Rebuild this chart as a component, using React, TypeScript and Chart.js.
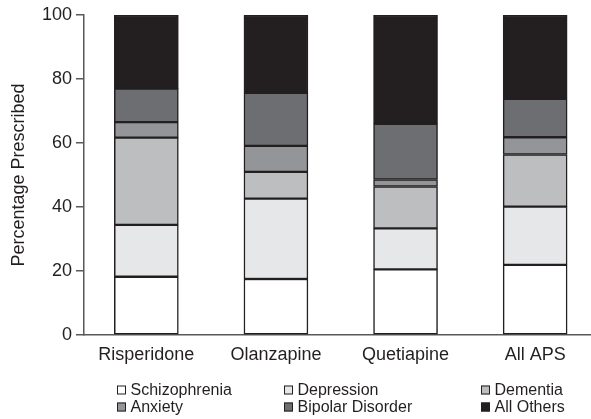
import React, { useEffect, useRef } from "react";
import { Chart, registerables } from "chart.js";

Chart.register(...registerables);

const categories = ["Risperidone", "Olanzapine", "Quetiapine", "All APS"];
const seriesNames = ["Schizophrenia", "Depression", "Dementia", "Anxiety", "Bipolar Disorder", "All Others"];
const schizophrenia = [18.2, 17.5, 20.5, 21.9];
const depression = [16.2, 25.1, 12.8, 18.2];
const dementia = [27.3, 8.4, 13.1, 16.3];
const anxiety = [4.8, 8.1, 2.2, 5.4];
const bipolar = [10.5, 16.6, 17.4, 12.0];
const others = [23.0, 24.3, 34.0, 26.2];
const yTicks = [0, 20, 40, 60, 80, 100];

const seriesValues = [schizophrenia, depression, dementia, anxiety, bipolar, others];
const seriesColors = ["#ffffff", "#e6e7e8", "#bcbec0", "#939598", "#6d6e71", "#231f20"];

const INK = "#231f20";
const AXIS = "#58595b";
const FONT = "'Liberation Sans', Arial, sans-serif";

const legendPlugin = {
  id: "gridLegend",
  afterDraw(chart: any) {
    const ctx = chart.ctx;
    const cols = [117, 284, 481];
    const rows = [390, 407];
    ctx.save();
    ctx.font = `16px ${FONT}`;
    ctx.textBaseline = "middle";
    ctx.textAlign = "left";
    chart.data.datasets.forEach((ds: any, i: number) => {
      const x = cols[i % 3];
      const y = rows[Math.floor(i / 3)];
      ctx.fillStyle = ds.backgroundColor;
      ctx.fillRect(x, y - 4.5, 9, 9);
      ctx.strokeStyle = INK;
      ctx.lineWidth = 1;
      ctx.strokeRect(x + 0.5, y - 4, 8, 8);
      ctx.fillStyle = INK;
      ctx.fillText(ds.label, x + 13.5, y + 0.5);
    });
    ctx.restore();
  },
};

export default function App() {
  const ref = useRef<HTMLCanvasElement>(null);

  useEffect(() => {
    if (!ref.current) return;
    const chart = new Chart(ref.current, {
      type: "bar",
      data: {
        datasets: seriesValues.map((vals, si) => ({
          label: seriesNames[si],
          data: vals.map((v, i) => ({ x: i, y: v })),
          backgroundColor: seriesColors[si],
          borderColor: INK,
          borderWidth: 1.5,
          borderSkipped: false,
          barThickness: 64,
        })),
      },
      options: {
        animation: false,
        responsive: true,
        maintainAspectRatio: false,
        layout: { padding: { top: 15, right: 0, left: 0, bottom: 0 } },
        plugins: {
          legend: { display: false },
          tooltip: { enabled: false },
        },
        scales: {
          x: {
            type: "linear",
            stacked: true,
            offset: false,
            min: -0.481,
            max: 3.431,
            afterBuildTicks: (scale: any) => {
              scale.ticks = categories.map((_, i) => ({ value: i }));
            },
            afterFit: (scale: any) => {
              scale.height = 84;
            },
            grid: { display: false, drawTicks: false },
            border: { display: true, color: AXIS, width: 1.5 },
            ticks: {
              padding: 9,
              color: INK,
              font: { size: 18, family: FONT },
              callback: (v: any) => categories[v as number] ?? "",
              maxRotation: 0,
              autoSkip: false,
            },
          },
          y: {
            stacked: true,
            min: 0,
            max: 100,
            afterBuildTicks: (scale: any) => {
              scale.ticks = yTicks.map((v) => ({ value: v }));
            },
            afterFit: (scale: any) => {
              scale.width = 84;
            },
            grid: {
              drawOnChartArea: false,
              drawTicks: true,
              tickLength: 8,
              color: AXIS,
              lineWidth: 1.5,
            },
            border: { display: true, color: AXIS, width: 1.5 },
            ticks: {
              padding: 4,
              color: INK,
              font: { size: 18, family: FONT },
            },
            title: {
              display: true,
              text: "Percentage Prescribed",
              color: INK,
              font: { size: 18, family: FONT },
              padding: { top: 8, bottom: 0 },
            },
          },
        },
      },
      plugins: [legendPlugin],
    });
    return () => chart.destroy();
  }, []);

  return (
    <div style={{ position: "absolute", left: 0, top: 0, width: 591, height: 419 }}>
      <canvas ref={ref} />
    </div>
  );
}
